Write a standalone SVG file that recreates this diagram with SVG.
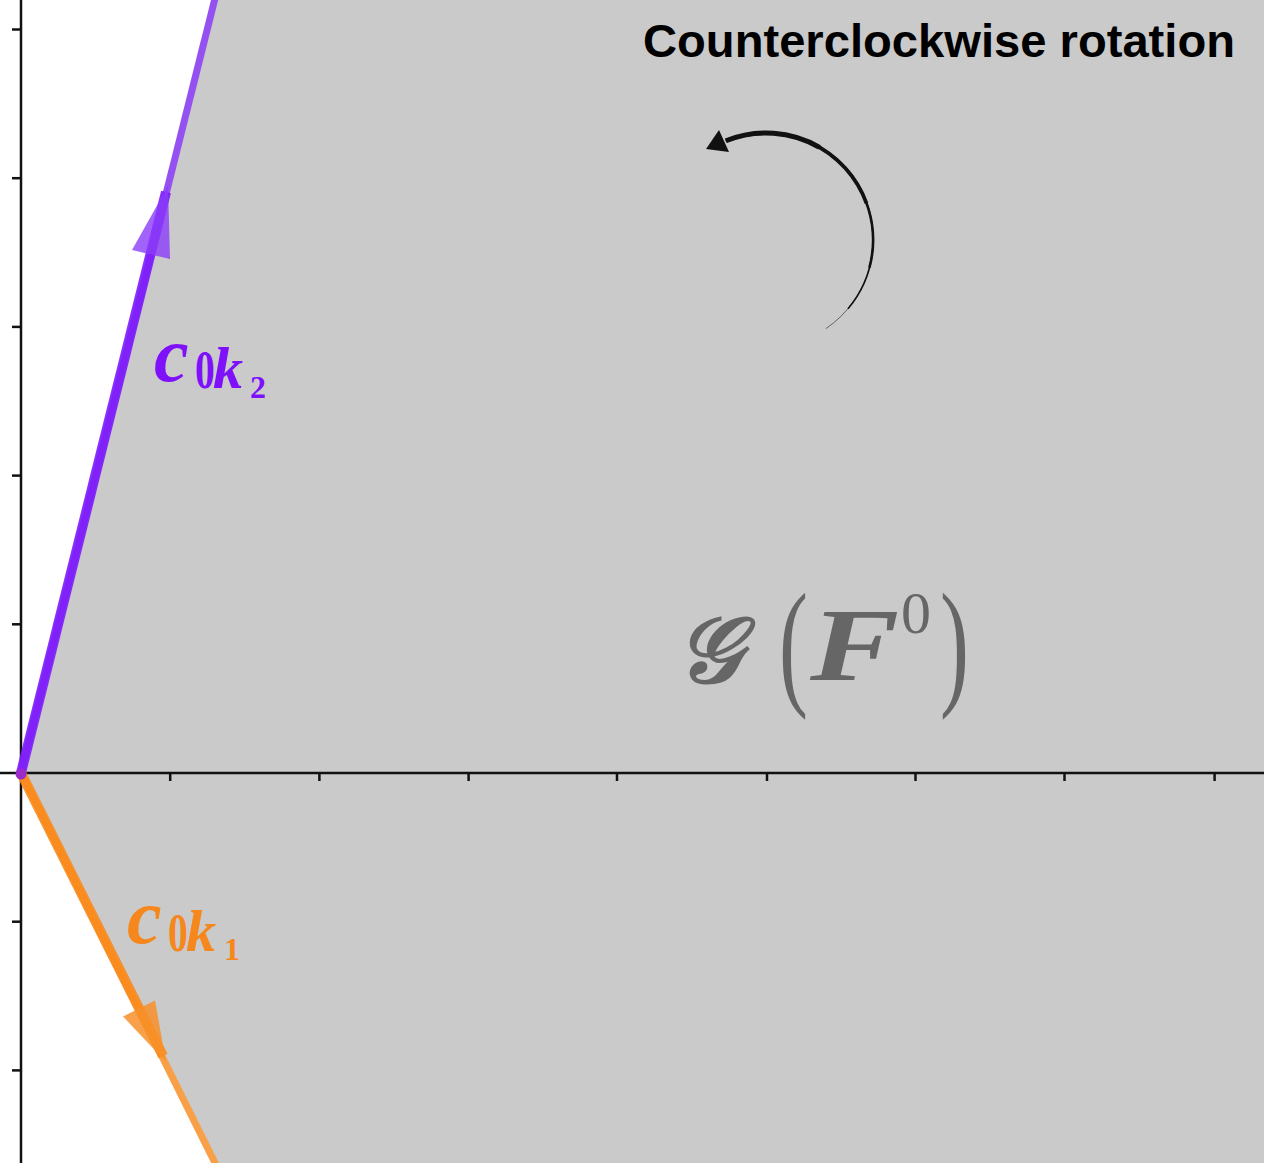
<svg xmlns="http://www.w3.org/2000/svg" width="1264" height="1163" viewBox="0 0 1264 1163">
<style>
.axis{stroke:#111;stroke-width:2.5;fill:none}
.tick{stroke:#111;stroke-width:2.5}
.math{font-family:"Liberation Serif","DejaVu Serif",serif;font-weight:bold}
.it{font-style:italic}
.title{font-family:"Liberation Sans",Arial,sans-serif;font-weight:bold;font-size:47px;fill:#000}
</style>
<rect width="1264" height="1163" fill="#ffffff"/>
<g id="region">
<polygon points="21,773 216.6,-8 1264,-8 1264,1170 218.5,1170" fill="#cacaca"/>
</g>
<g id="axes">
<line class="axis" x1="21" y1="0" x2="21" y2="1163"/>
<line class="axis" x1="0" y1="773" x2="1264" y2="773"/>
<g class="tick">
<line x1="12" y1="29.5" x2="21" y2="29.5"/>
<line x1="12" y1="178.2" x2="21" y2="178.2"/>
<line x1="12" y1="326.9" x2="21" y2="326.9"/>
<line x1="12" y1="475.6" x2="21" y2="475.6"/>
<line x1="12" y1="624.3" x2="21" y2="624.3"/>
<line x1="12" y1="921.7" x2="21" y2="921.7"/>
<line x1="12" y1="1070.4" x2="21" y2="1070.4"/>
<line x1="170.2" y1="773" x2="170.2" y2="781"/>
<line x1="319.4" y1="773" x2="319.4" y2="781"/>
<line x1="468.6" y1="773" x2="468.6" y2="781"/>
<line x1="617" y1="773" x2="617" y2="781"/>
<line x1="767" y1="773" x2="767" y2="781"/>
<line x1="915.5" y1="773" x2="915.5" y2="781"/>
<line x1="1064.5" y1="773" x2="1064.5" y2="781"/>
<line x1="1214.6" y1="773" x2="1214.6" y2="781"/>
</g>
</g>
<g id="connectors">
<g id="vector-c0k2">
<line x1="21" y1="773" x2="216.6" y2="-8" stroke="#9550f2" stroke-width="7"/>
<line x1="21" y1="773" x2="166" y2="192" stroke="#7d1cfb" stroke-width="10" stroke-opacity="0.9"/>
<polygon points="168,186 132,250 170,259" fill="#8a3cf8" fill-opacity="0.8"/>
</g>
<g id="vector-c0k1">
<line x1="21" y1="773" x2="218.5" y2="1170" stroke="#f7a048" stroke-width="7"/>
<line x1="21" y1="773" x2="163" y2="1056" stroke="#fa8a1b" stroke-width="10" stroke-opacity="0.9"/>
<polygon points="166,1062 123,1016.5 155,1000.5" fill="#f7902a" fill-opacity="0.85"/>
</g>
<circle cx="21" cy="774" r="5.5" fill="#9a2bc9"/>
<g id="rotation-arrow" fill="none" stroke="#111">
<path d="M725.9,140.8 A107,107 0 0 1 825.8,328.7" stroke-width="1" stroke-opacity="0.55"/>
<path d="M725.9,140.8 A107,107 0 0 1 848,308.8" stroke-width="1.6"/>
<path d="M725.9,140.8 A107,107 0 0 1 869.4,267.7" stroke-width="2.6"/>
<path d="M725.9,140.8 A107,107 0 0 1 866.5,203.4" stroke-width="3.7"/>
<path d="M725.9,140.8 A107,107 0 0 1 819.5,147.3" stroke-width="5"/>
<polygon points="706,149 719,130 729,152" fill="#111" stroke="none"/>
</g>
</g>
<g id="label-c0k2" class="math" fill="#7f10fa">
<text class="it" x="154" y="381" font-size="78">c</text>
<text transform="translate(195,388) scale(0.72,1)" font-size="55">0</text>
<text class="it" x="213" y="388" font-size="60">k</text>
<text x="250" y="398" font-size="32">2</text>
</g>
<g id="label-c0k1" class="math" fill="#f5871c">
<text class="it" x="127" y="943" font-size="78">c</text>
<text transform="translate(168,951) scale(0.72,1)" font-size="55">0</text>
<text class="it" x="186" y="951" font-size="60">k</text>
<text x="224" y="960" font-size="32">1</text>
</g>
<g id="label-GF0" fill="#666666">
<text class="math it" x="676" y="682" font-size="92">𝒢</text>
<text font-family="Liberation Serif,serif" font-size="140" transform="translate(779,690) scale(0.62,1)">(</text>
<text class="math it" font-size="103" transform="translate(810,680) scale(1.3,1)">F</text>
<text font-family="Liberation Serif,serif" x="901" y="633" font-size="60">0</text>
<text font-family="Liberation Serif,serif" font-size="140" transform="translate(940,690) scale(0.62,1)">)</text>
</g>
<g id="title">
<text class="title" x="643" y="57" textLength="592" lengthAdjust="spacingAndGlyphs">Counterclockwise rotation</text>
</g>
</svg>
